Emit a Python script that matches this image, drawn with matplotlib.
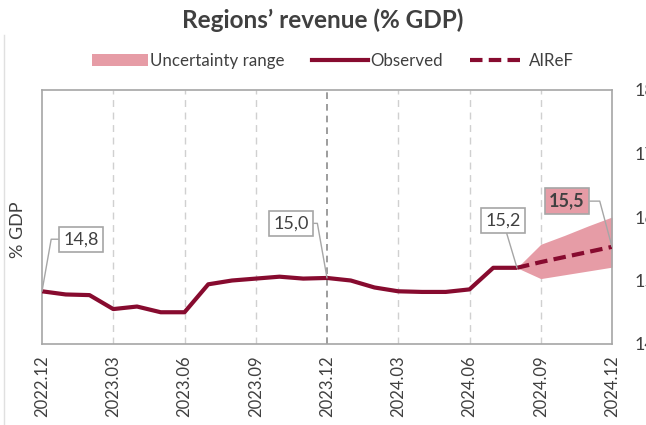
import matplotlib
matplotlib.use("Agg")
import matplotlib.pyplot as plt
from matplotlib.lines import Line2D
from matplotlib.patches import Patch
import numpy as np

months = ["2022.12", "2023.01", "2023.02", "2023.03", "2023.04", "2023.05", "2023.06",
          "2023.07", "2023.08", "2023.09", "2023.10", "2023.11", "2023.12",
          "2024.01", "2024.02", "2024.03", "2024.04", "2024.05", "2024.06",
          "2024.07", "2024.08", "2024.09", "2024.10", "2024.11", "2024.12"]
observed = [14.83, 14.78, 14.77, 14.55, 14.59, 14.50, 14.50, 14.94, 15.00, 15.03,
            15.06, 15.03, 15.04, 15.00, 14.89, 14.83, 14.82, 14.82, 14.86, 15.20, 15.20]
forecast_months = ["2024.08", "2024.09", "2024.10", "2024.11", "2024.12"]
forecast = [15.20, 15.29, 15.37, 15.45, 15.53]
band_low = [15.20, 15.03, 15.09, 15.15, 15.21]
band_high = [15.20, 15.57, 15.71, 15.86, 16.00]
tick_labels = ["2022.12", "2023.03", "2023.06", "2023.09", "2023.12",
               "2024.03", "2024.06", "2024.09", "2024.12"]
y_ticks = [14, 15, 16, 17, 18]
labels = {"2022.12": "14,8", "2023.12": "15,0", "2024.08": "15,2", "2024.12": "15,5"}

plt.rcParams['font.family'] = ['Lato', 'DejaVu Sans']

DARK = "#870B2F"
PINK = "#E69CA6"
GRAY = "#A6A6A6"
TXT = "#404040"

fig = plt.figure(figsize=(6.46, 4.25), dpi=100)
ax = fig.add_axes([42/646, 1-344/425, 570/646, 254/425])

idx = {m: i for i, m in enumerate(months)}
x_obs = np.arange(len(observed))
x_fc = [idx[m] for m in forecast_months]

ax.fill_between(x_fc, band_low, band_high, color=PINK, lw=0, zorder=2)
ax.plot(x_obs, observed, color=DARK, lw=3, zorder=3, solid_capstyle='butt')
ax.plot(x_fc, forecast, color=DARK, lw=3, ls=(0, (3, 1.5)), zorder=3)

for t in tick_labels:
    xi = idx[t]
    if t in ("2022.12", "2024.12"):
        continue
    if t == "2023.12":
        ax.axvline(xi, color="#8C8C8C", lw=1.2, ls=(0, (4, 3)), zorder=1)
    else:
        ax.axvline(xi, color="#D0D0D0", lw=1.0, ls=(0, (5, 4)), zorder=1)

ax.set_xlim(0, len(months) - 1)
ax.set_ylim(14, 18)
ax.set_xticks([idx[t] for t in tick_labels])
ax.set_xticklabels(tick_labels, rotation=90, fontsize=12, color=TXT)
ax.tick_params(axis='x', length=0, pad=8)
ax.yaxis.tick_right()
ax.set_yticks(y_ticks)
ax.set_yticklabels([str(v) for v in y_ticks], fontsize=13, color=TXT)
ax.tick_params(axis='y', length=0, pad=16)
for s in ax.spines.values():
    s.set_color(GRAY)
    s.set_linewidth(1.2)
ax.text(-0.042, 0.45, "% GDP", transform=ax.transAxes, rotation=90, fontsize=13,
        color=TXT, ha='center', va='center')


def callout(xm, ym, text, bx, by, elbow, bold=False, fill="white"):
    ax.annotate(text, xy=(xm, ym), xytext=(bx, by), textcoords='data',
                fontsize=13, color=TXT, ha='center', va='center',
                fontweight='bold' if bold else 'normal',
                bbox=dict(boxstyle='square,pad=0.25', fc=fill, ec=GRAY, lw=1.2),
                arrowprops=dict(arrowstyle='-', color=GRAY, lw=1,
                                connectionstyle=elbow, shrinkA=0, shrinkB=0),
                zorder=5, annotation_clip=False)


m = "2022.12"
callout(idx[m], observed[idx[m]], labels[m], 1.65, 15.65, "angle,angleA=0,angleB=80,rad=0")
m = "2023.12"
callout(idx[m], observed[idx[m]], labels[m], 10.48, 15.9, "angle,angleA=0,angleB=100,rad=0")
m = "2024.08"
callout(idx[m], observed[idx[m]], labels[m], 19.4, 15.95, "arc3,rad=0")
m = "2024.12"
callout(idx[m], forecast[-1], labels[m], 22.1, 16.25, "angle,angleA=0,angleB=105,rad=0",
        bold=True, fill=PINK)

fig.text(0.5, 1-20/425, "Regions’ revenue (% GDP)", ha='center', va='center',
         fontsize=17.5, fontweight='bold', color=TXT)

handles = [Patch(facecolor=PINK, edgecolor='none'),
           Line2D([0], [0], color=DARK, lw=3),
           Line2D([0], [0], color=DARK, lw=3, ls=(0, (3, 1.5)))]
fig.legend(handles, ["Uncertainty range", "Observed", "AIReF"], loc='center',
           bbox_to_anchor=(0.515, 1-61/425), ncol=3, frameon=False, fontsize=12.2,
           handlelength=3.3, handletextpad=0.15, columnspacing=1.6,
           labelcolor=TXT)

fig.add_artist(Line2D([4/646, 4/646], [0, 1-35/425], color="#E0E0E0", lw=1,
                      transform=fig.transFigure))

fig.savefig("out.png", dpi=100)
